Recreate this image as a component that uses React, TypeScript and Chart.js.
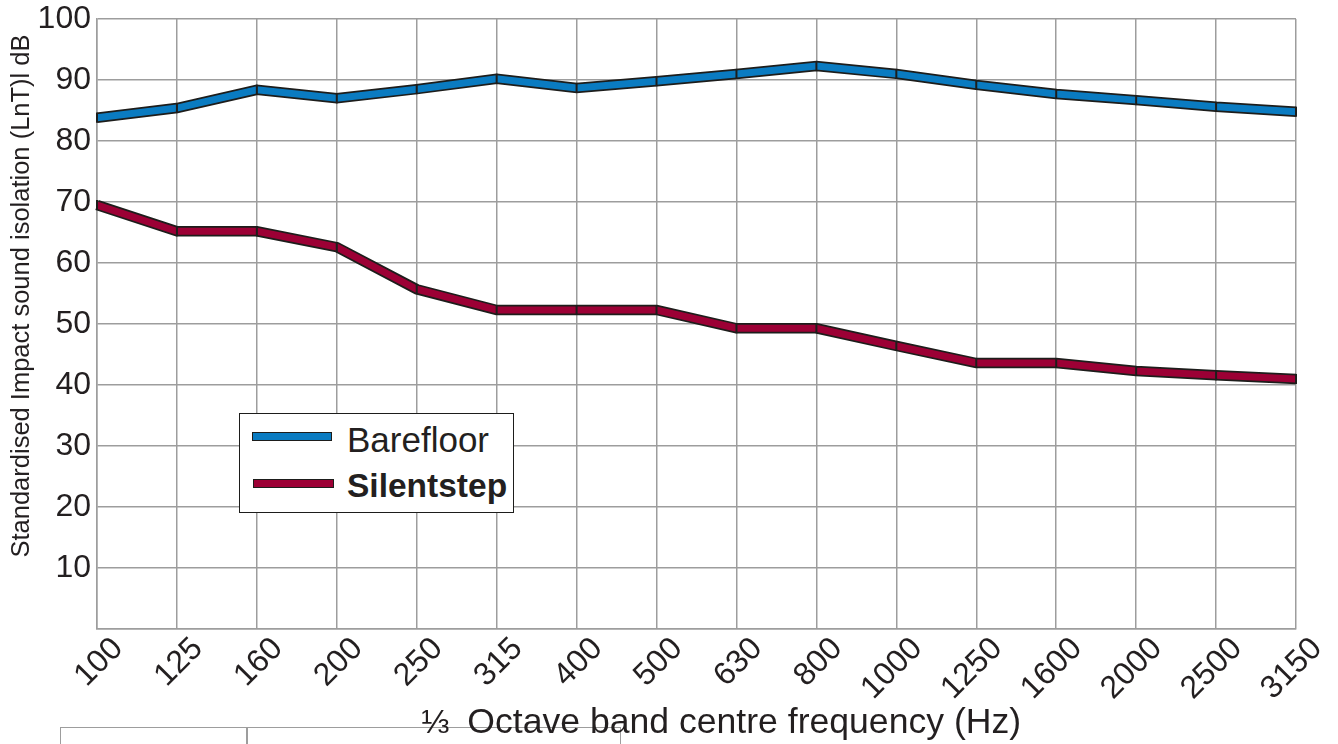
import React, { useEffect, useRef } from "react";
import { Chart, registerables } from "chart.js";

Chart.register(...registerables);

const frequencies = ["100", "125", "160", "200", "250", "315", "400", "500", "630", "800", "1000", "1250", "1600", "2000", "2500", "3150"];
const barefloor = [83.8, 85.4, 88.4, 87.0, 88.5, 90.2, 88.7, 89.8, 91.0, 92.3, 91.0, 89.2, 87.7, 86.7, 85.6, 84.8];
const silentstep = [69.5, 65.2, 65.2, 62.6, 55.7, 52.3, 52.3, 52.3, 49.3, 49.3, 46.4, 43.6, 43.6, 42.3, 41.6, 41.0];
const yTicks = [0, 10, 20, 30, 40, 50, 60, 70, 80, 90, 100];

const BLUE = "#0a7bc1";
const RED = "#9c0035";
const OUTLINE = "#1d1d1b";
const GRID = "#9d9d9d";
const TEXT = "#231f20";
const FONT = "'Liberation Sans', Arial, sans-serif";

export default function App() {
  const ref = useRef<HTMLCanvasElement | null>(null);

  useEffect(() => {
    if (!ref.current) return;
    const outline = (data: number[], order: number) => ({
      data,
      borderColor: OUTLINE,
      borderWidth: 10.5,
      pointRadius: 0,
      borderJoinStyle: "miter" as const,
      borderCapStyle: "butt" as const,
      tension: 0,
      order,
    });
    const fill = (data: number[], color: string, order: number) => ({
      data,
      borderColor: color,
      borderWidth: 7,
      pointStyle: "line" as const,
      rotation: 90,
      pointRadius: 5,
      pointBorderWidth: 2,
      pointBorderColor: OUTLINE,
      pointBackgroundColor: OUTLINE,
      borderJoinStyle: "miter" as const,
      borderCapStyle: "butt" as const,
      tension: 0,
      order,
    });
    const chart = new Chart(ref.current, {
      type: "line",
      data: {
        labels: frequencies,
        datasets: [
          fill(barefloor, BLUE, 1),
          fill(silentstep, RED, 2),
          outline(barefloor, 3),
          outline(silentstep, 4),
        ],
      },
      options: {
        animation: false,
        responsive: true,
        maintainAspectRatio: false,
        events: [],
        layout: { padding: { top: 19, right: 42, left: 0, bottom: 0 } },
        plugins: { legend: { display: false }, tooltip: { enabled: false } },
        scales: {
          x: {
            type: "category",
            offset: false,
            grid: { color: GRID, lineWidth: 1.5, drawTicks: false },
            border: { color: GRID, width: 1.5 },
            ticks: {
              minRotation: 45,
              maxRotation: 45,
              autoSkip: false,
              padding: 1,
              labelOffset: 21,
              color: TEXT,
              font: { family: FONT, size: 32 },
            },
            afterFit: (s: any) => {
              s.height = 115;
              s.paddingLeft = 0;
              s.paddingRight = 0;
            },
          },
          y: {
            min: 0,
            max: 100,
            afterBuildTicks: (s: any) => {
              s.ticks = yTicks.map((v) => ({ value: v }));
            },
            grid: { color: GRID, lineWidth: 1.5, drawTicks: false },
            border: { color: GRID, width: 1.5 },
            ticks: {
              padding: 6,
              color: TEXT,
              font: { family: FONT, size: 32 },
              callback: (v: any) => (Number(v) === 0 ? "" : String(v)),
            },
            afterFit: (s: any) => {
              s.width = 97;
              s.paddingTop = 0;
              s.paddingBottom = 0;
            },
          },
        },
      },
    });
    return () => chart.destroy();
  }, []);

  return (
    <div
      style={{
        position: "fixed",
        left: 0,
        top: 0,
        width: 1338,
        height: 744,
        overflow: "hidden",
        background: "#fff",
        fontFamily: FONT,
        color: TEXT,
      }}
    >
      <canvas ref={ref} style={{ position: "absolute", left: 0, top: 0, width: 1338, height: 744 }} />
      <div
        style={{
          position: "absolute",
          left: 20 - 320,
          top: 296 - 14,
          width: 640,
          height: 28,
          lineHeight: "28px",
          fontSize: 25.5,
          textAlign: "center",
          transform: "rotate(-90deg)",
          transformOrigin: "50% 50%",
          whiteSpace: "nowrap",
        }}
      >
        Standardised Impact sound isolation (LnT)l dB
      </div>
      <div
        style={{
          position: "absolute",
          left: 60,
          top: 727,
          width: 559,
          height: 40,
          border: `1.5px solid ${GRID}`,
        }}
      />
      <div style={{ position: "absolute", left: 246, top: 727, width: 1.5, height: 30, background: GRID }} />
      <div
        style={{
          position: "absolute",
          left: 421,
          top: 704,
          fontSize: 35.6,
          lineHeight: 1,
          whiteSpace: "nowrap",
        }}
      >
        <span style={{ fontSize: 34 }}>⅓</span>
        <span style={{ display: "inline-block", width: 18 }} />
        Octave band centre frequency (Hz)
      </div>
      <div
        style={{
          position: "absolute",
          left: 239,
          top: 413,
          width: 273,
          height: 98,
          border: `1.5px solid ${OUTLINE}`,
          background: "#fff",
        }}
      >
        <div
          style={{
            position: "absolute",
            left: 12,
            top: 18,
            width: 78,
            height: 7,
            background: BLUE,
            border: `1.5px solid ${OUTLINE}`,
          }}
        />
        <div
          style={{
            position: "absolute",
            left: 13,
            top: 65,
            width: 79,
            height: 7,
            background: RED,
            border: `1.5px solid ${OUTLINE}`,
          }}
        />
        <div style={{ position: "absolute", left: 107, top: 8, fontSize: 35, lineHeight: 1, whiteSpace: "nowrap" }}>
          Barefloor
        </div>
        <div
          style={{
            position: "absolute",
            left: 107,
            top: 55,
            fontSize: 33.5,
            lineHeight: 1,
            fontWeight: "bold",
            whiteSpace: "nowrap",
          }}
        >
          Silentstep
        </div>
      </div>
    </div>
  );
}
